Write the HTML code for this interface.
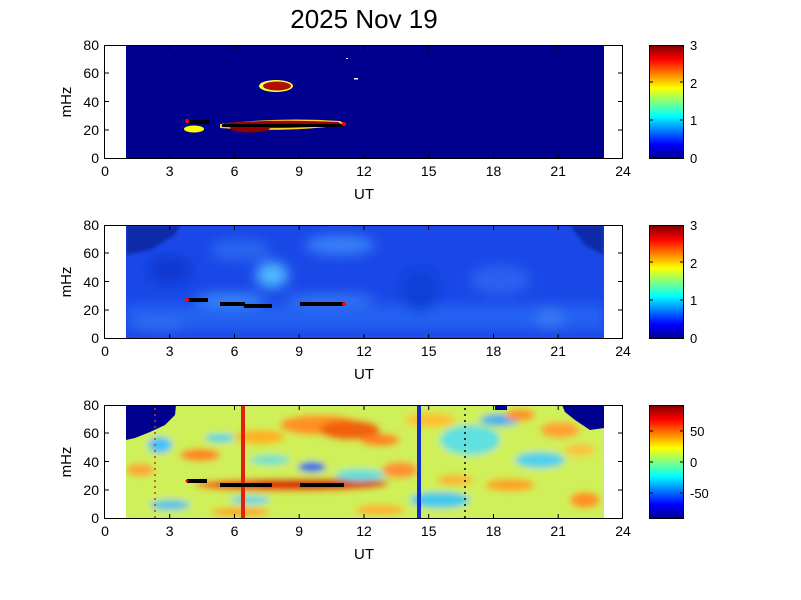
<!DOCTYPE html>
<html><head><meta charset="utf-8"><style>body{margin:0;background:#fff}svg{display:block}text{font-family:"Liberation Sans",sans-serif}</style></head><body>
<svg width="801" height="600" viewBox="0 0 801 600" xmlns="http://www.w3.org/2000/svg">
<defs>
<linearGradient id="jet" x1="0" y1="1" x2="0" y2="0">
<stop offset="0" stop-color="#00008f"/><stop offset="0.125" stop-color="#0000ff"/><stop offset="0.375" stop-color="#00ffff"/><stop offset="0.625" stop-color="#ffff00"/><stop offset="0.875" stop-color="#ff0000"/><stop offset="1" stop-color="#800000"/>
</linearGradient>
<filter id="b4" x="-50%" y="-50%" width="200%" height="200%"><feGaussianBlur stdDeviation="3.5"/></filter>
<filter id="b6" x="-50%" y="-50%" width="200%" height="200%"><feGaussianBlur stdDeviation="6"/></filter>
<filter id="b2" x="-50%" y="-50%" width="200%" height="200%"><feGaussianBlur stdDeviation="1.5"/></filter>
<clipPath id="c1"><rect x="126" y="45" width="478" height="113"/></clipPath>
<clipPath id="c2"><rect x="126" y="225" width="478" height="113"/></clipPath>
<clipPath id="c3"><rect x="126" y="405" width="478" height="113"/></clipPath>
</defs>
<text x="364" y="28" font-size="26" text-anchor="middle">2025 Nov 19</text>

<!-- Panel 1 -->
<rect x="126" y="45" width="478" height="113" fill="#00008f"/>
<g clip-path="url(#c1)">
<ellipse cx="276" cy="86" rx="17" ry="6" fill="#ffff40"/>
<ellipse cx="277" cy="86" rx="14" ry="4.5" fill="#b01000"/>
<ellipse cx="194" cy="129" rx="10" ry="3.5" fill="#ffff00"/>
<rect x="188" y="120" width="21" height="4" fill="#000"/>
<path d="M220 124 Q280 117 340 121 L346 125 Q280 133 220 128Z" fill="#ffd020"/>
<path d="M224 123 Q280 119 338 122 L343 125 Q280 130 224 127Z" fill="#a00000"/>
<ellipse cx="250" cy="128" rx="20" ry="4.5" fill="#900000"/>
<rect x="222" y="124" width="122" height="3" fill="#000"/>
<circle cx="187" cy="121" r="2" fill="#f00"/>
<circle cx="344" cy="124" r="2" fill="#f00"/>
<rect x="354" y="78" width="4" height="1.5" fill="#fff"/>
<rect x="346" y="58" width="2" height="1" fill="#fff"/>
</g>
<rect x="104.5" y="45.5" width="518" height="113" fill="none" stroke="#000"/>
<rect x="649.5" y="45.5" width="34" height="113" fill="url(#jet)" stroke="#000"/>

<!-- Panel 2 -->
<rect x="126" y="225" width="478" height="113" fill="#1a48e8"/>
<g clip-path="url(#c2)">
<g filter="url(#b6)">
<rect x="126" y="305" width="478" height="25" fill="#2868f4" opacity="0.8"/>
<ellipse cx="272" cy="275" rx="16" ry="13" fill="#50b8ff"/>
<ellipse cx="230" cy="300" rx="35" ry="7" fill="#3888f8"/>
<ellipse cx="340" cy="245" rx="35" ry="10" fill="#3880f8"/>
<ellipse cx="240" cy="250" rx="30" ry="10" fill="#2a68f0"/>
<ellipse cx="330" cy="300" rx="45" ry="6" fill="#3478f4"/>
<ellipse cx="500" cy="280" rx="30" ry="15" fill="#2a60f0"/>
<ellipse cx="420" cy="290" rx="20" ry="22" fill="#1040d8"/>
<ellipse cx="550" cy="318" rx="15" ry="10" fill="#3878f4"/>
<ellipse cx="170" cy="270" rx="22" ry="14" fill="#1038d0"/>
<ellipse cx="160" cy="325" rx="25" ry="6" fill="#3070f0"/>
</g>
<path d="M126 225 L180 225 L175 235 L150 250 L126 255Z" fill="#0a2aa8" filter="url(#b2)"/>
<path d="M570 225 L604 225 L604 255 L585 245Z" fill="#0a2aa8" filter="url(#b2)"/>
<g fill="#000">
<rect x="187" y="298" width="21" height="4"/>
<rect x="220" y="302" width="25" height="4"/>
<rect x="244" y="304" width="28" height="4"/>
<rect x="300" y="302" width="44" height="4"/>
</g>
<circle cx="187" cy="300" r="2" fill="#f00"/>
<circle cx="344" cy="304" r="2" fill="#f00"/>
</g>
<rect x="104.5" y="225.5" width="518" height="113" fill="none" stroke="#000"/>
<rect x="649.5" y="225.5" width="34" height="113" fill="url(#jet)" stroke="#000"/>

<!-- Panel 3 -->
<rect x="126" y="405" width="478" height="113" fill="#c0f070"/>
<g clip-path="url(#c3)">
<g filter="url(#b4)">
<rect x="126" y="405" width="478" height="113" fill="#e0f040" opacity="0.5"/>
<ellipse cx="320" cy="425" rx="40" ry="10" fill="#ff9020"/>
<ellipse cx="350" cy="430" rx="30" ry="10" fill="#f06010"/>
<ellipse cx="260" cy="437" rx="25" ry="7" fill="#ffb020"/>
<ellipse cx="200" cy="455" rx="20" ry="6" fill="#ff8020"/>
<ellipse cx="290" cy="485" rx="95" ry="6" fill="#f04010"/>
<ellipse cx="320" cy="483" rx="70" ry="4" fill="#d01000"/>
<ellipse cx="160" cy="445" rx="12" ry="8" fill="#40c0ff"/>
<ellipse cx="220" cy="438" rx="15" ry="4" fill="#40d0f0"/>
<ellipse cx="312" cy="467" rx="14" ry="5" fill="#2060f0"/>
<ellipse cx="360" cy="475" rx="25" ry="6" fill="#60e0e0"/>
<ellipse cx="170" cy="505" rx="20" ry="5" fill="#50c0f0"/>
<ellipse cx="250" cy="500" rx="20" ry="4" fill="#60d0f0"/>
<ellipse cx="400" cy="470" rx="18" ry="8" fill="#ff9030"/>
<ellipse cx="380" cy="440" rx="20" ry="6" fill="#ff8020"/>
<ellipse cx="470" cy="440" rx="30" ry="15" fill="#60e0e0"/>
<ellipse cx="440" cy="500" rx="30" ry="8" fill="#40c8f0"/>
<ellipse cx="510" cy="485" rx="25" ry="6" fill="#ffa020"/>
<ellipse cx="540" cy="460" rx="25" ry="8" fill="#50d0f0"/>
<ellipse cx="560" cy="430" rx="20" ry="8" fill="#ffa030"/>
<ellipse cx="585" cy="500" rx="15" ry="8" fill="#ff9020"/>
<ellipse cx="500" cy="420" rx="20" ry="6" fill="#40b0f0"/>
<ellipse cx="240" cy="512" rx="30" ry="4" fill="#ffa020"/>
<ellipse cx="430" cy="420" rx="25" ry="7" fill="#ffc030"/>
<ellipse cx="520" cy="415" rx="15" ry="6" fill="#ff9020"/>
<ellipse cx="140" cy="470" rx="14" ry="6" fill="#ffa030"/>
<ellipse cx="380" cy="510" rx="25" ry="5" fill="#ffb030"/>
<ellipse cx="455" cy="480" rx="18" ry="5" fill="#ffb030"/>
<ellipse cx="580" cy="450" rx="15" ry="6" fill="#ffc040"/>
<ellipse cx="270" cy="460" rx="20" ry="5" fill="#70e0d0"/>
</g>
<path d="M126 405 L176 405 L175 415 L165 425 L150 432 L135 438 L126 440Z" fill="#00008f"/>
<path d="M562 405 L604 405 L604 428 L590 430 L575 420 L565 412Z" fill="#00008f"/>
<rect x="495" y="405" width="12" height="5" fill="#00008f"/>
<line x1="155" y1="408" x2="155" y2="518" stroke="#c04020" stroke-width="1.5" stroke-dasharray="2,4"/>
<line x1="465" y1="408" x2="465" y2="518" stroke="#000" stroke-width="1.5" stroke-dasharray="2,4"/>
<rect x="241" y="405" width="4" height="113" fill="#e02010"/>
<rect x="417" y="405" width="4" height="113" fill="#1030d0"/>
<g fill="#000">
<rect x="187" y="479" width="20" height="4"/>
<rect x="220" y="483" width="52" height="4"/>
<rect x="300" y="483" width="44" height="4"/>
</g>
<circle cx="187" cy="481" r="1.5" fill="#f00"/>
</g>
<rect x="104.5" y="405.5" width="518" height="113" fill="none" stroke="#000"/>
<rect x="649.5" y="405.5" width="34" height="113" fill="url(#jet)" stroke="#000"/>

<!-- axes ticks and labels -->
<g font-size="14" text-anchor="middle" fill="#000">
<g id="xt">
<text x="105" y="176">0</text><text x="169.7" y="176">3</text><text x="234.5" y="176">6</text><text x="299.2" y="176">9</text><text x="364" y="176">12</text><text x="428.7" y="176">15</text><text x="493.5" y="176">18</text><text x="558.2" y="176">21</text><text x="623" y="176">24</text>
</g>
<use href="#xt" y="180"/><use href="#xt" y="360"/>
<text x="364" y="199" font-size="15">UT</text><text x="364" y="379" font-size="15">UT</text><text x="364" y="559" font-size="15">UT</text>
</g>
<g font-size="14" text-anchor="end" fill="#000">
<g id="yt"><text x="99" y="163">0</text><text x="99" y="135">20</text><text x="99" y="107">40</text><text x="99" y="78">60</text><text x="99" y="50">80</text></g>
<use href="#yt" y="180"/><use href="#yt" y="360"/>
</g>
<g font-size="15" fill="#000">
<text transform="translate(71,102) rotate(-90)" text-anchor="middle">mHz</text>
<text transform="translate(71,282) rotate(-90)" text-anchor="middle">mHz</text>
<text transform="translate(71,462) rotate(-90)" text-anchor="middle">mHz</text>
</g>
<g stroke="#000" stroke-width="1">
<path id="tx" d="M169.7 158v-4M234.5 158v-4M299.2 158v-4M364 158v-4M428.7 158v-4M493.5 158v-4M558.2 158v-4M169.7 46v4M234.5 46v4M299.2 46v4M364 46v4M428.7 46v4M493.5 46v4M558.2 46v4M105 130h4M105 101.5h4M105 73h4M622 130h-4M622 101.5h-4M622 73h-4"/>
<use href="#tx" y="180"/><use href="#tx" y="360"/>
</g>
<g font-size="13" fill="#000">
<text x="690" y="163">0</text><text x="690" y="125">1</text><text x="690" y="88">2</text><text x="690" y="50">3</text>
<text x="690" y="343">0</text><text x="690" y="305">1</text><text x="690" y="268">2</text><text x="690" y="230">3</text>
<text x="690" y="436">50</text><text x="690" y="467">0</text><text x="690" y="498">-50</text>
</g>
<g stroke="#000"><path d="M680 120h3M680 82h3M650 120h3M650 82h3M680 300h3M680 262h3M650 300h3M650 262h3M680 431h3M680 462h3M680 493h3M650 431h3M650 462h3M650 493h3"/></g>
</svg>
</body></html>
